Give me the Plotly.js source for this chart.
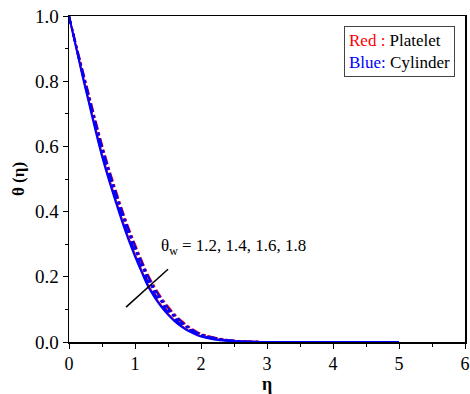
<!DOCTYPE html>
<html><head><meta charset="utf-8">
<script src="https://cdn.plot.ly/plotly-3.0.1.min.js"></script>
<style>body{margin:0;background:#fff}#c{width:470px;height:394px}</style>
</head><body><div id="c"></div>
<script>
const eta = [0,0.1,0.2,0.3,0.4,0.5,0.6,0.7,0.8,0.9,1.0,1.1,1.2,1.3,1.4,1.5,1.6,1.7,1.8,1.9,2.0,2.2,2.4,2.6,2.8,3.0,3.5,4.0,4.5,5.0];
const thetaW = ["1.2","1.4","1.6","1.8"];
const blue12 = [1,0.91,0.82,0.735,0.65,0.57,0.50,0.435,0.372,0.315,0.263,0.215,0.170,0.136,0.108,0.084,0.064,0.048,0.035,0.025,0.017,0.008,0.0035,0.0012,0.0004,0.0001,0,0,0,0];
const blue14 = [1,0.912,0.825,0.742,0.66,0.58,0.51,0.445,0.383,0.326,0.274,0.226,0.180,0.145,0.116,0.091,0.070,0.053,0.039,0.028,0.020,0.010,0.0045,0.0016,0.0005,0.0001,0,0,0,0];
const blue16 = [1,0.914,0.83,0.749,0.668,0.59,0.52,0.455,0.393,0.336,0.284,0.236,0.190,0.154,0.124,0.098,0.076,0.058,0.043,0.031,0.022,0.012,0.0055,0.002,0.0006,0.0001,0,0,0,0];
const blue18 = [1,0.916,0.835,0.756,0.676,0.60,0.53,0.465,0.403,0.346,0.294,0.246,0.200,0.163,0.132,0.105,0.082,0.063,0.047,0.034,0.024,0.013,0.006,0.0022,0.0007,0.0002,0,0,0,0];
const red12 = [1,0.912,0.824,0.740,0.656,0.576,0.506,0.441,0.378,0.320,0.268,0.219,0.174,0.139,0.111,0.086,0.066,0.050,0.036,0.026,0.018,0.009,0.004,0.0014,0.0004,0.0001,0,0,0,0];
const red14 = [1,0.914,0.829,0.747,0.666,0.586,0.516,0.451,0.389,0.331,0.279,0.231,0.185,0.149,0.120,0.094,0.073,0.055,0.041,0.030,0.021,0.011,0.005,0.0018,0.0005,0.0001,0,0,0,0];
const red16 = [1,0.916,0.834,0.754,0.674,0.596,0.526,0.461,0.399,0.342,0.290,0.241,0.195,0.158,0.128,0.102,0.079,0.060,0.045,0.033,0.023,0.013,0.006,0.0022,0.0007,0.0002,0,0,0,0];
const red18 = [1,0.918,0.839,0.761,0.682,0.606,0.536,0.471,0.409,0.352,0.300,0.251,0.205,0.168,0.136,0.109,0.085,0.066,0.049,0.036,0.025,0.014,0.0065,0.0024,0.0008,0.0002,0,0,0,0];

const dashes = ["solid","dash","dot","dashdot"];
const reds = [red12, red14, red16, red18];
const blues = [blue12, blue14, blue16, blue18];
const traces = [];
reds.forEach((y,i)=>traces.push({x:eta,y:y,mode:"lines",line:{color:"#ff0000",width:2,dash:dashes[i],shape:"spline"},name:"Platelet θw="+thetaW[i]}));
blues.forEach((y,i)=>traces.push({x:eta,y:y,mode:"lines",line:{color:"#0000ff",width:2,dash:dashes[i],shape:"spline"},name:"Cylinder θw="+thetaW[i]}));

const font = "Liberation Serif";
const layout = {
  width:470, height:394,
  margin:{l:69,r:5,t:16,b:52},
  paper_bgcolor:"#fff", plot_bgcolor:"#fff",
  showlegend:false,
  font:{family:font,size:18,color:"#000"},
  xaxis:{range:[0,6],dtick:1,tick0:0,showgrid:false,zeroline:false,
    showline:true,linecolor:"#000",linewidth:1.5,mirror:true,
    ticks:"outside",ticklen:5,tickcolor:"#000",tickfont:{family:font,size:18,color:"#000"},
    minor:{dtick:0.5,ticks:"outside",ticklen:3,tickcolor:"#000"},
    title:{text:"<b>η</b>",font:{family:font,size:18},standoff:6}},
  yaxis:{range:[0,1],dtick:0.2,tick0:0,showgrid:false,zeroline:false,tickformat:".1f",
    showline:true,linecolor:"#000",linewidth:1.5,mirror:true,
    ticks:"outside",ticklen:5,tickcolor:"#000",tickfont:{family:font,size:19,color:"#000"},
    minor:{dtick:0.1,ticks:"outside",ticklen:3,tickcolor:"#000"},
    title:{text:"<b>θ (η)</b>",font:{family:font,size:17},standoff:6}},
  shapes:[{type:"line",xref:"x",yref:"y",x0:0.864,y0:0.107,x1:1.5,y1:0.223,line:{color:"#000",width:1.5}}],
  annotations:[
    {xref:"x",yref:"y",x:1.36,y:0.29,xanchor:"left",yanchor:"middle",showarrow:false,
     text:"θ<sub>w</sub> = "+thetaW.join(", "),font:{family:font,size:17}},
    {xref:"paper",yref:"paper",x:0.976,y:0.97,xanchor:"right",yanchor:"top",showarrow:false,
     align:"left",bordercolor:"#444",borderwidth:1,borderpad:4,bgcolor:"#fff",
     text:"<span style='color:#ff0000'>Red :</span> Platelet<br><span style='color:#0000ff'>Blue:</span> Cylinder",font:{family:font,size:17}}
  ]
};
Plotly.newPlot("c",traces,layout,{displayModeBar:false,staticPlot:true});
</script></body></html>
